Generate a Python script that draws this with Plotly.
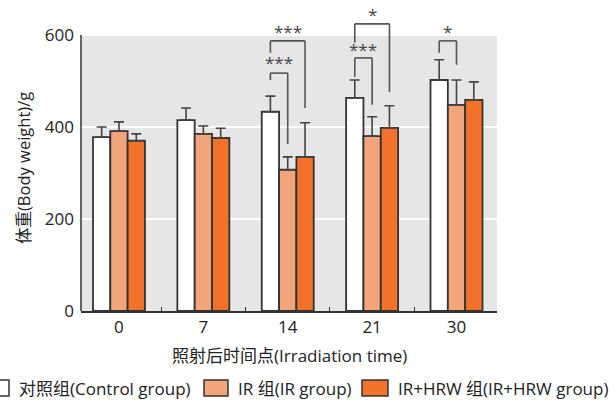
import plotly.graph_objects as go

# Body weight (g) after irradiation, mean and SD per group
days = ["0", "7", "14", "21", "30"]
control = [378, 415, 433, 463, 502]
control_sd = [22, 26, 34, 39, 44]
ir = [391, 385, 307, 380, 448]
ir_sd = [20, 17, 28, 42, 54]
hrw = [370, 376, 335, 398, 459]
hrw_sd = [15, 21, 74, 48, 39]

series_names = ["对照组(Control group)", "IR 组(IR group)", "IR+HRW 组(IR+HRW group)"]
series_colors = ["#FFFFFF", "#F2A57B", "#F2722B"]

# significance brackets: group index, bar a, bar b, top, leg a bottom, leg b bottom, label, label y
brackets = [
    (2, 0, 1, 517, 502, 363, "***", 539),
    (2, 0, 2, 587, 561, 441, "***", 607),
    (3, 0, 1, 550, 509, 448, "***", 569),
    (3, 0, 2, 624, 583, 476, "*", 645),
    (4, 0, 1, 587, 561, 535, "*", 607),
]

FONT = "Open Sans, Noto Sans CJK SC"
TXT = "#222222"
W, H = 616, 401
ML, MR, MT, MB = 81, 119, 5, 90
BARGAP = 0.384
bar_w = (1 - BARGAP) / 3

fig = go.Figure()
for vals, sds, name, color in zip([control, ir, hrw], [control_sd, ir_sd, hrw_sd],
                                  series_names, series_colors):
    fig.add_trace(go.Bar(
        x=days, y=vals, name=name, showlegend=False,
        marker=dict(color=color, line=dict(color="#333333", width=1.8)),
        error_y=dict(type="data", array=sds, arrayminus=[0] * len(sds), symmetric=False,
                     color="#444444", thickness=1.6, width=5),
    ))

shapes = [
    # grey panel up to 600 g
    dict(type="rect", xref="x domain", yref="y", x0=0, x1=1, y0=0, y1=600,
         fillcolor="#E6E6E6", line_width=0, layer="below"),
    # y axis line
    dict(type="line", xref="paper", yref="y", x0=0, x1=0, y0=0, y1=600,
         line=dict(color="#333333", width=1.5)),
]
annotations = []
for g, a, b, top, ya, yb, label, ly in brackets:
    xa = g + (a - 1) * bar_w
    xb = g + (b - 1) * bar_w
    line = dict(color="#555555", width=1.6)
    shapes += [
        dict(type="line", xref="x", yref="y", x0=xa, x1=xa, y0=ya, y1=top, line=line),
        dict(type="line", xref="x", yref="y", x0=xa, x1=xb, y0=top, y1=top, line=line),
        dict(type="line", xref="x", yref="y", x0=xb, x1=xb, y0=top, y1=yb, line=line),
    ]
    annotations.append(dict(x=(xa + xb) / 2, y=ly, xref="x", yref="y", text=label,
                            showarrow=False, yanchor="middle",
                            font=dict(family=FONT, size=17, color="#444444")))


# helpers for placing the hand-built legend and titles in paper space
pw, ph = W - ML - MR, H - MT - MB


def px_x(p):
    return (p - ML) / pw


def px_y(p):
    return (H - MB - p) / ph


legend_items = [(-16, 9, 17), (204, 228, 236), (362, 388, 396)]
for (bx0, bx1, tx), name, color in zip(legend_items, series_names, series_colors):
    shapes.append(dict(type="rect", xref="paper", yref="paper",
                       x0=px_x(bx0), x1=px_x(bx1), y0=px_y(396), y1=px_y(380),
                       fillcolor=color, line=dict(color="#333333", width=1.5)))
    annotations.append(dict(x=px_x(tx), y=px_y(388), xref="paper", yref="paper",
                            text=name, showarrow=False, xanchor="left", yanchor="middle",
                            font=dict(family=FONT, size=17, color=TXT)))

annotations.append(dict(x=px_x(289), y=px_y(355), xref="paper", yref="paper",
                        text="照射后时间点(Irradiation time)", showarrow=False,
                        xanchor="center", yanchor="middle",
                        font=dict(family=FONT, size=17, color=TXT)))
annotations.append(dict(x=px_x(23), y=px_y(168), xref="paper", yref="paper",
                        text="体重(Body weight)/g", showarrow=False, textangle=-90,
                        xanchor="center", yanchor="middle",
                        font=dict(family=FONT, size=16.5, color=TXT)))

fig.update_layout(
    width=W, height=H,
    margin=dict(l=ML, r=MR, t=MT, b=MB),
    paper_bgcolor="white", plot_bgcolor="white",
    barmode="group", bargap=BARGAP, bargroupgap=0,
    font=dict(family=FONT, size=17, color=TXT),
    shapes=shapes, annotations=annotations,
    xaxis=dict(type="category", range=[-0.45, 4.48], showline=True, linecolor="#333333",
               linewidth=1.5, ticks="inside", tickson="boundaries", ticklen=4,
               tickcolor="#333333", tickwidth=1.2, showgrid=False,
               tickfont=dict(family=FONT, size=17, color=TXT)),
    yaxis=dict(range=[0, 665], tickvals=[0, 200, 400, 600], showline=False,
               showgrid=True, gridcolor="white", gridwidth=1.5, zeroline=False,
               ticks="", ticklabelstandoff=6,
               tickfont=dict(family=FONT, size=17, color=TXT)),
)

fig.write_html("out.html")
